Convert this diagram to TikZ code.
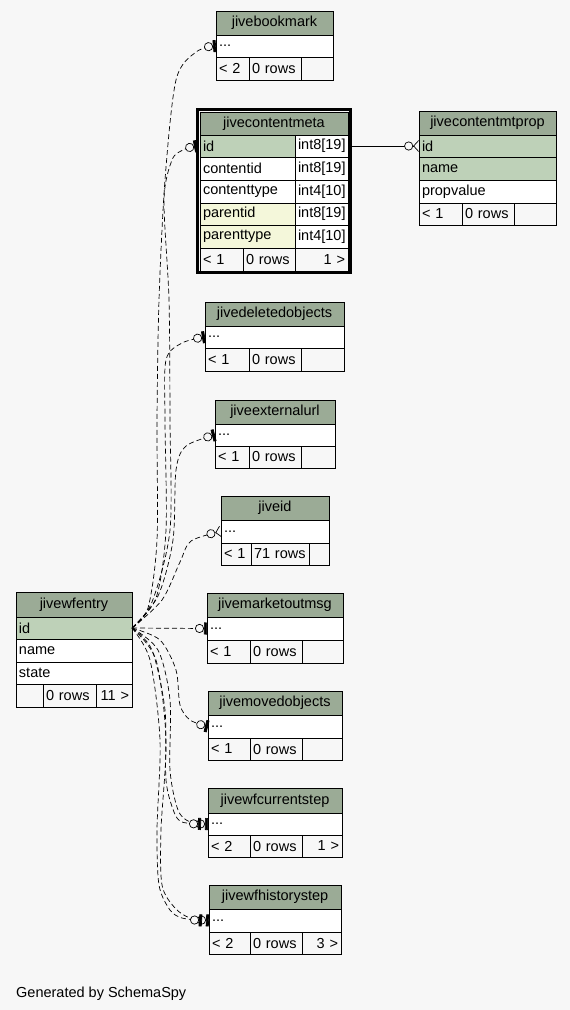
\documentclass[tikz,border=0pt]{standalone}
\usepackage{fontspec}
\setmainfont{Liberation Sans}
\usetikzlibrary{arrows.meta}
\definecolor{canvas}{HTML}{F7F7F7}
\definecolor{headgreen}{HTML}{9BAB96}
\definecolor{keygreen}{HTML}{BED1B8}
\definecolor{fkyellow}{HTML}{F4F7DA}
\tikzset{
  cell/.style={draw, line width=0.9pt, anchor=north west, outer sep=0pt, inner xsep=3pt, inner ysep=0pt,
    align=left, font=\fontsize{14.5}{16}\selectfont},
  tblhead/.style={cell, fill=headgreen, align=center},
  pk/.style={cell, fill=keygreen},
  fk/.style={cell, fill=fkyellow},
  rowcell/.style={cell, fill=white},
  tblfoot/.style={cell, fill=canvas},
  implied/.style={line width=0.7pt, dash pattern=on 5pt off 3pt,
    -{Circle[fill=canvas,length=9pt] Rectangle[length=3pt,width=12pt]}},
  impliedmany/.style={implied,
    -{Circle[fill=canvas,length=9pt] Straight Barb[reversed,length=5pt,width=11pt]}},
}
\begin{document}
\begin{tikzpicture}[x=1pt,y=-1pt]
\fill[canvas] (0,0) rectangle (570,1010);
\useasboundingbox (0,0) rectangle (570,1010);

% jivebookmark
\node[tblhead, text width=111pt, minimum height=24pt] (bm-hd) at (216,11) {jivebookmark};
\node[rowcell, text width=111pt, minimum height=22pt] (bm-row) at (216,35) {...};
\node[tblfoot, text width=27pt, minimum height=23pt] (bm-f1) at (216,57) {< 2};
\node[tblfoot, text width=46pt, minimum height=23pt] (bm-f2) at (249,57) {0 rows};
\node[tblfoot, text width=26pt, minimum height=23pt] (bm-f3) at (301,57) {};

% jivecontentmeta
\draw[line width=3pt] (197.5,109.5) rectangle (350.5,272.5);
\node[tblhead, text width=142pt, minimum height=23pt] (cm-hd) at (200,112) {jivecontentmeta};
\node[pk, text width=89pt, minimum height=22pt] (cm-id) at (200,135) {id};
\node[rowcell, text width=47pt, minimum height=22pt] (cm-idt) at (295,135) {int8[19]};
\node[rowcell, text width=89pt, minimum height=23pt] (cm-cid) at (200,157) {contentid};
\node[rowcell, text width=47pt, minimum height=23pt] (cm-cidt) at (295,157) {int8[19]};
\node[rowcell, text width=89pt, minimum height=23pt] (cm-ctype) at (200,180) {contenttype};
\node[rowcell, text width=47pt, minimum height=23pt] (cm-ctypet) at (295,180) {int4[10]};
\node[fk, text width=89pt, minimum height=22pt] (cm-pid) at (200,203) {parentid};
\node[rowcell, text width=47pt, minimum height=22pt] (cm-pidt) at (295,203) {int8[19]};
\node[fk, text width=89pt, minimum height=23pt] (cm-ptype) at (200,225) {parenttype};
\node[rowcell, text width=47pt, minimum height=23pt] (cm-ptypet) at (295,225) {int4[10]};
\node[tblfoot, text width=37pt, minimum height=23pt] (cm-f1) at (200,248) {< 1};
\node[tblfoot, text width=46pt, minimum height=23pt] (cm-f2) at (243,248) {0 rows};
\node[tblfoot, text width=47pt, minimum height=23pt, align=right] (cm-f3) at (295,248) {1 >};

% jivecontentmtprop
\node[tblhead, text width=131pt, minimum height=24pt] (cp-hd) at (419,111) {jivecontentmtprop};
\node[pk, text width=131pt, minimum height=22pt] (cp-id) at (419,135) {id};
\node[pk, text width=131pt, minimum height=23pt] (cp-name) at (419,157) {name};
\node[rowcell, text width=131pt, minimum height=23pt] (cp-val) at (419,180) {propvalue};
\node[tblfoot, text width=37pt, minimum height=22pt] (cp-f1) at (419,203) {< 1};
\node[tblfoot, text width=46pt, minimum height=22pt] (cp-f2) at (462,203) {0 rows};
\node[tblfoot, text width=36pt, minimum height=22pt] (cp-f3) at (514,203) {};

% jivedeletedobjects
\node[tblhead, text width=133pt, minimum height=24pt] (do-hd) at (205,302) {jivedeletedobjects};
\node[rowcell, text width=133pt, minimum height=22pt] (do-row) at (205,326) {...};
\node[tblfoot, text width=38pt, minimum height=23pt] (do-f1) at (205,348) {< 1};
\node[tblfoot, text width=46pt, minimum height=23pt] (do-f2) at (249,348) {0 rows};
\node[tblfoot, text width=37pt, minimum height=23pt] (do-f3) at (301,348) {};

% jiveexternalurl
\node[tblhead, text width=114pt, minimum height=24pt] (eu-hd) at (215,400) {jiveexternalurl};
\node[rowcell, text width=114pt, minimum height=22pt] (eu-row) at (215,424) {...};
\node[tblfoot, text width=28pt, minimum height=22pt] (eu-f1) at (215,446) {< 1};
\node[tblfoot, text width=46pt, minimum height=22pt] (eu-f2) at (249,446) {0 rows};
\node[tblfoot, text width=28pt, minimum height=22pt] (eu-f3) at (301,446) {};

% jiveid
\node[tblhead, text width=102pt, minimum height=24pt] (id-hd) at (221,496) {jiveid};
\node[rowcell, text width=102pt, minimum height=23pt] (id-row) at (221,520) {...};
\node[tblfoot, text width=24pt, minimum height=22pt] (id-f1) at (221,543) {< 1};
\node[tblfoot, text width=52pt, minimum height=22pt] (id-f2) at (251,543) {71 rows};
\node[tblfoot, text width=14pt, minimum height=22pt] (id-f3) at (309,543) {};

% jivewfentry
\node[tblhead, text width=110pt, minimum height=25pt] (we-hd) at (16,592) {jivewfentry};
\node[pk, text width=110pt, minimum height=22pt] (we-id) at (16,617) {id};
\node[rowcell, text width=110pt, minimum height=23pt] (we-name) at (16,639) {name};
\node[rowcell, text width=110pt, minimum height=22pt] (we-state) at (16,662) {state};
\node[tblfoot, text width=21pt, minimum height=23pt] (we-f1) at (16,684) {};
\node[tblfoot, text width=47pt, minimum height=23pt] (we-f2) at (43,684) {0 rows};
\node[tblfoot, text width=30pt, minimum height=23pt, align=right] (we-f3) at (96,684) {11 >};

% jivemarketoutmsg
\node[tblhead, text width=130pt, minimum height=24pt] (mo-hd) at (207,593) {jivemarketoutmsg};
\node[rowcell, text width=130pt, minimum height=23pt] (mo-row) at (207,617) {...};
\node[tblfoot, text width=37pt, minimum height=23pt] (mo-f1) at (207,640) {< 1};
\node[tblfoot, text width=46pt, minimum height=23pt] (mo-f2) at (250,640) {0 rows};
\node[tblfoot, text width=35pt, minimum height=23pt] (mo-f3) at (302,640) {};

% jivemovedobjects
\node[tblhead, text width=128pt, minimum height=24pt] (mv-hd) at (208,691) {jivemovedobjects};
\node[rowcell, text width=128pt, minimum height=23pt] (mv-row) at (208,715) {...};
\node[tblfoot, text width=36pt, minimum height=22pt] (mv-f1) at (208,738) {< 1};
\node[tblfoot, text width=46pt, minimum height=22pt] (mv-f2) at (250,738) {0 rows};
\node[tblfoot, text width=34pt, minimum height=22pt] (mv-f3) at (302,738) {};

% jivewfcurrentstep
\node[tblhead, text width=128pt, minimum height=25pt] (cs-hd) at (208,788) {jivewfcurrentstep};
\node[rowcell, text width=128pt, minimum height=22pt] (cs-row) at (208,813) {...};
\node[tblfoot, text width=36pt, minimum height=22pt] (cs-f1) at (208,835) {< 2};
\node[tblfoot, text width=46pt, minimum height=22pt] (cs-f2) at (250,835) {0 rows};
\node[tblfoot, text width=34pt, minimum height=22pt, align=right] (cs-f3) at (302,835) {1 >};

% jivewfhistorystep
\node[tblhead, text width=126pt, minimum height=24pt] (hs-hd) at (209,885) {jivewfhistorystep};
\node[rowcell, text width=126pt, minimum height=23pt] (hs-row) at (209,909) {...};
\node[tblfoot, text width=35pt, minimum height=22pt] (hs-f1) at (209,932) {< 2};
\node[tblfoot, text width=46pt, minimum height=22pt] (hs-f2) at (250,932) {0 rows};
\node[tblfoot, text width=33pt, minimum height=22pt, align=right] (hs-f3) at (302,932) {3 >};

\node[anchor=base west, inner sep=0pt, font=\fontsize{14.5}{16}\selectfont] (credit) at (16,997) {Generated by SchemaSpy};

% relationships
\draw[line width=0.7pt, -{Circle[fill=canvas,length=9pt] Straight Barb[reversed,length=5pt,width=11pt]}]
  ([xshift=3pt]cm-idt.east) -- (cp-id.west);
\draw[implied] plot[smooth] coordinates {(we-id.east) (148,608) (157,540) (157,420) (159,300) (165,180) (176,80) (196,52) (bm-row.west)};
\draw[implied] plot[smooth] coordinates {(we-id.east) (152,602) (170,530) (170,420) (169,300) (164,200) (172,160) (183,150) ([xshift=-3pt]cm-id.west)};
\draw[implied] plot[smooth] coordinates {(we-id.east) (156,598) (166,530) (165,420) (166,360) (182,343) (do-row.west)};
\draw[implied] plot[smooth] coordinates {(we-id.east) (158,596) (173,540) (176,470) (186,446) (eu-row.west)};
\draw[impliedmany] plot[smooth] coordinates {(we-id.east) (162,600) (180,562) (191,541) (id-row.west)};
\draw[implied] (we-id.east) -- (mo-row.west);
\draw[implied] plot[smooth] coordinates {(we-id.east) (160,640) (176,670) (180,705) (190,720) (mv-row.west)};
\draw[implied] plot[smooth] coordinates {(we-id.east) (158,650) (170,700) (170,770) (178,810) (190,822) (cs-row.west)};
\draw[implied] plot[smooth] coordinates {(we-id.east) (152,650) (165,710) (166,780) (174,812) (182,822) ([xshift=-7pt]cs-row.west)};
\draw[implied] plot[smooth] coordinates {(we-id.east) (156,660) (166,740) (161,830) (162,885) (175,908) (190,918) (hs-row.west)};
\draw[implied] plot[smooth] coordinates {(we-id.east) (150,660) (160,740) (157,830) (159,885) (170,910) (182,918) ([xshift=-7pt]hs-row.west)};
\end{tikzpicture}
\end{document}
